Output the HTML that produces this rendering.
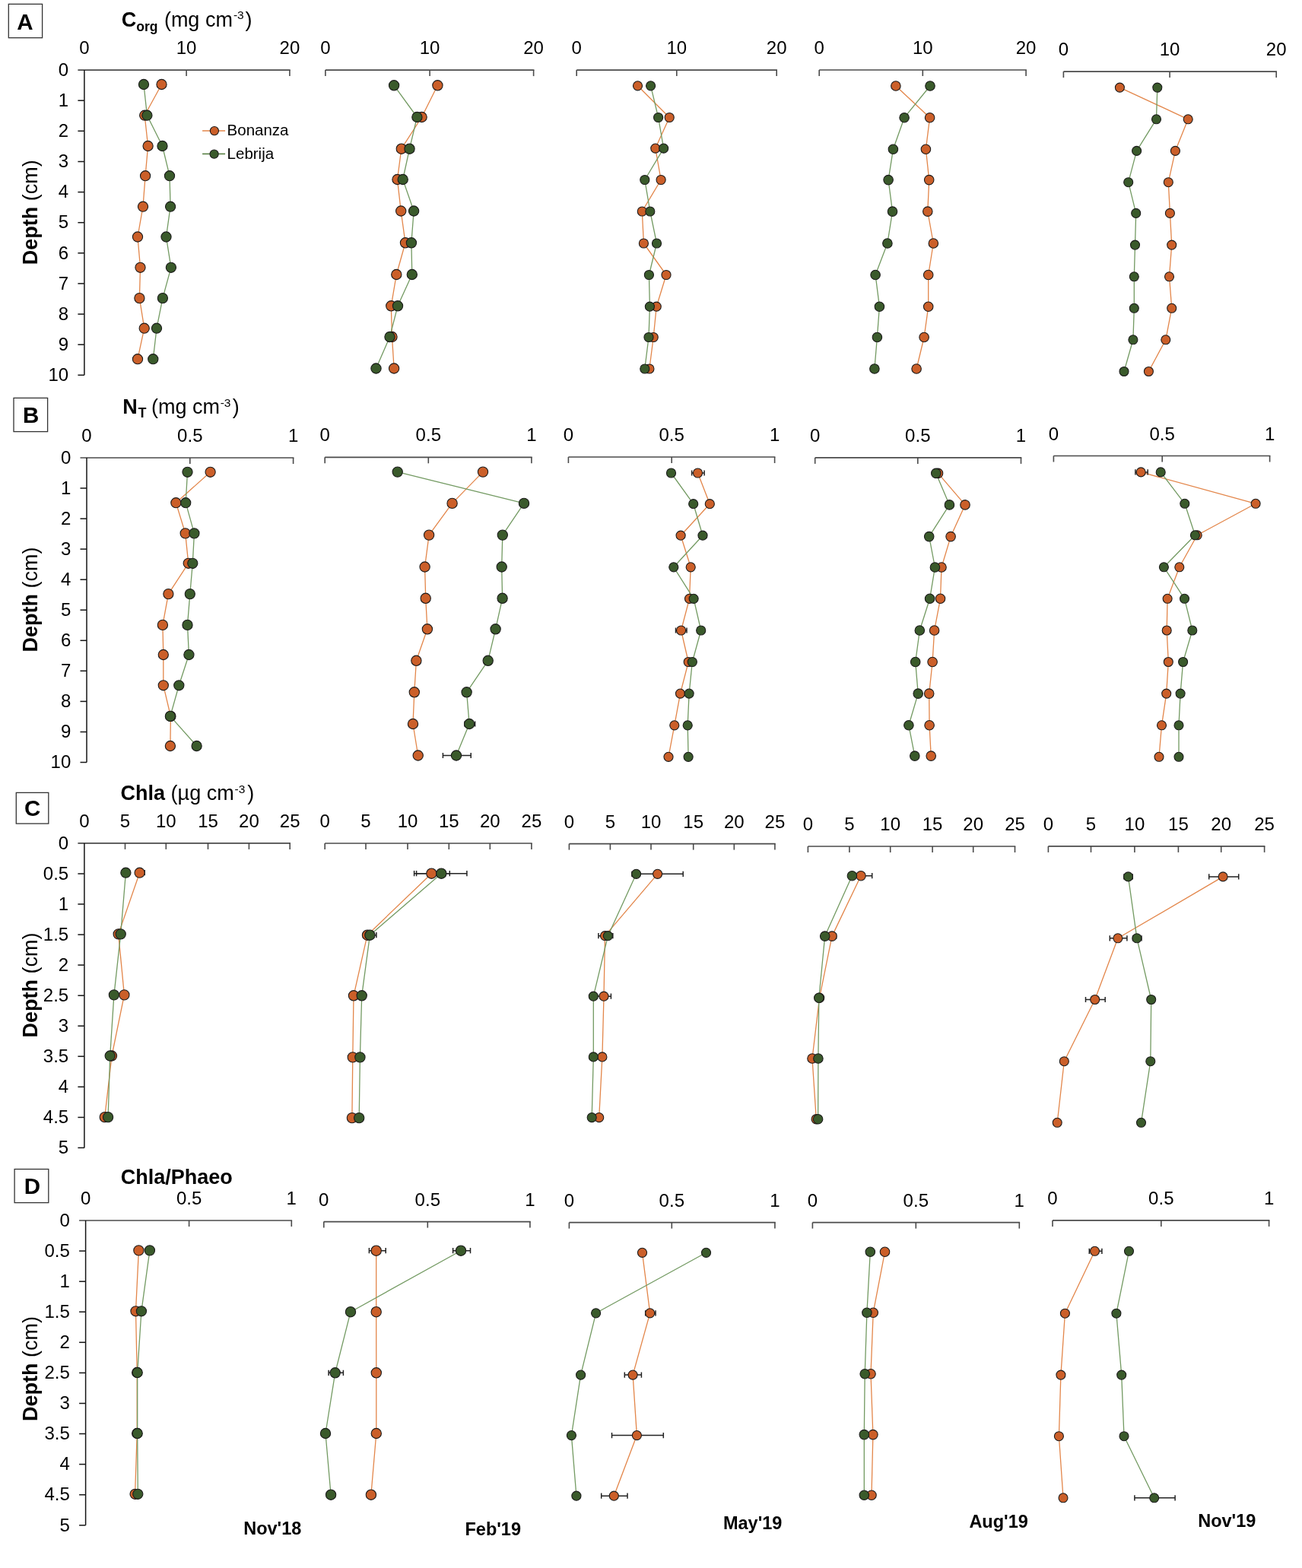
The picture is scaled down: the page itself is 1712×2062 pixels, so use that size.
<!DOCTYPE html>
<html><head><meta charset="utf-8"><title>Depth profiles</title>
<style>html,body{margin:0;padding:0;background:#fff;}svg{display:block;}text{font-family:'Liberation Sans', Arial, sans-serif;fill:#000;}</style></head><body>
<svg width="1712" height="2062" viewBox="0 0 1712 2062">
<rect width="1712" height="2062" fill="#fff"/>
<rect x="11.3" y="5.4" width="44.3" height="44.3" fill="none" stroke="#333" stroke-width="1.3"/>
<text x="32.9" y="39.1" font-size="29.5" font-weight="bold" text-anchor="middle">A</text>
<text x="159.8" y="35.3" font-size="27" font-weight="bold">C</text>
<text x="179.3" y="40.6" font-size="17.5" font-weight="bold">org</text>
<text x="215.9" y="35.3" font-size="27" font-weight="normal">(mg cm</text>
<text x="306.9" y="25" font-size="15.5" font-weight="normal">-3</text>
<text x="322.4" y="35.3" font-size="27" font-weight="normal">)</text>
<path d="M102.4 92.1H381.7" stroke="#4a4a4a" stroke-width="1.7" fill="none"/>
<path d="M245.1 92.1V100.1" stroke="#4a4a4a" stroke-width="1.6" fill="none"/>
<path d="M380.9 92.1V100.1" stroke="#4a4a4a" stroke-width="1.6" fill="none"/>
<text x="110.9" y="71.1" font-size="24" text-anchor="middle">0</text>
<text x="245.1" y="71.1" font-size="24" text-anchor="middle">10</text>
<text x="380.9" y="71.1" font-size="24" text-anchor="middle">20</text>
<path d="M110.9 92.1V493.3" stroke="#141414" stroke-width="1.5" fill="none"/>
<text x="90.2" y="99.8" font-size="24" text-anchor="end">0</text>
<path d="M102.4 132.2H110.9" stroke="#141414" stroke-width="1.5" fill="none"/>
<text x="90.2" y="139.9" font-size="24" text-anchor="end">1</text>
<path d="M102.4 172.3H110.9" stroke="#141414" stroke-width="1.5" fill="none"/>
<text x="90.2" y="180" font-size="24" text-anchor="end">2</text>
<path d="M102.4 212.5H110.9" stroke="#141414" stroke-width="1.5" fill="none"/>
<text x="90.2" y="220.2" font-size="24" text-anchor="end">3</text>
<path d="M102.4 252.6H110.9" stroke="#141414" stroke-width="1.5" fill="none"/>
<text x="90.2" y="260.3" font-size="24" text-anchor="end">4</text>
<path d="M102.4 292.7H110.9" stroke="#141414" stroke-width="1.5" fill="none"/>
<text x="90.2" y="300.4" font-size="24" text-anchor="end">5</text>
<path d="M102.4 332.8H110.9" stroke="#141414" stroke-width="1.5" fill="none"/>
<text x="90.2" y="340.5" font-size="24" text-anchor="end">6</text>
<path d="M102.4 372.9H110.9" stroke="#141414" stroke-width="1.5" fill="none"/>
<text x="90.2" y="380.6" font-size="24" text-anchor="end">7</text>
<path d="M102.4 413.1H110.9" stroke="#141414" stroke-width="1.5" fill="none"/>
<text x="90.2" y="420.8" font-size="24" text-anchor="end">8</text>
<path d="M102.4 453.2H110.9" stroke="#141414" stroke-width="1.5" fill="none"/>
<text x="90.2" y="460.9" font-size="24" text-anchor="end">9</text>
<path d="M102.4 493.3H110.9" stroke="#141414" stroke-width="1.5" fill="none"/>
<text x="90.2" y="501" font-size="24" text-anchor="end">10</text>
<text transform="translate(48.8 279.2) rotate(-90)" font-size="27" text-anchor="middle"><tspan font-weight="bold">Depth</tspan> (cm)</text>
<path d="M212.5 111 L190.2 151.7 L194.6 192 L191.1 231.2 L188 271.7 L181 311.5 L184.5 351.8 L183.4 392.1 L189.7 431.7 L181 472.2" stroke="#e3864a" stroke-width="1.3" fill="none" stroke-linejoin="round"/>
<path d="M189 111 L193.4 151.7 L213.5 192 L223 231.2 L224.1 271.7 L218.5 311.5 L224.9 351.8 L213.9 392.1 L206 431.7 L201.3 472.2" stroke="#739a62" stroke-width="1.3" fill="none" stroke-linejoin="round"/>
<circle cx="212.5" cy="111" r="6.60" fill="#cb5f29" stroke="#1a1a1a" stroke-width="1.1"/>
<circle cx="190.2" cy="151.7" r="6.60" fill="#cb5f29" stroke="#1a1a1a" stroke-width="1.1"/>
<circle cx="194.6" cy="192" r="6.60" fill="#cb5f29" stroke="#1a1a1a" stroke-width="1.1"/>
<circle cx="191.1" cy="231.2" r="6.60" fill="#cb5f29" stroke="#1a1a1a" stroke-width="1.1"/>
<circle cx="188" cy="271.7" r="6.60" fill="#cb5f29" stroke="#1a1a1a" stroke-width="1.1"/>
<circle cx="181" cy="311.5" r="6.60" fill="#cb5f29" stroke="#1a1a1a" stroke-width="1.1"/>
<circle cx="184.5" cy="351.8" r="6.60" fill="#cb5f29" stroke="#1a1a1a" stroke-width="1.1"/>
<circle cx="183.4" cy="392.1" r="6.60" fill="#cb5f29" stroke="#1a1a1a" stroke-width="1.1"/>
<circle cx="189.7" cy="431.7" r="6.60" fill="#cb5f29" stroke="#1a1a1a" stroke-width="1.1"/>
<circle cx="181" cy="472.2" r="6.60" fill="#cb5f29" stroke="#1a1a1a" stroke-width="1.1"/>
<circle cx="189" cy="111" r="6.60" fill="#3a5a2b" stroke="#1a1a1a" stroke-width="1.1"/>
<circle cx="193.4" cy="151.7" r="6.60" fill="#3a5a2b" stroke="#1a1a1a" stroke-width="1.1"/>
<circle cx="213.5" cy="192" r="6.60" fill="#3a5a2b" stroke="#1a1a1a" stroke-width="1.1"/>
<circle cx="223" cy="231.2" r="6.60" fill="#3a5a2b" stroke="#1a1a1a" stroke-width="1.1"/>
<circle cx="224.1" cy="271.7" r="6.60" fill="#3a5a2b" stroke="#1a1a1a" stroke-width="1.1"/>
<circle cx="218.5" cy="311.5" r="6.60" fill="#3a5a2b" stroke="#1a1a1a" stroke-width="1.1"/>
<circle cx="224.9" cy="351.8" r="6.60" fill="#3a5a2b" stroke="#1a1a1a" stroke-width="1.1"/>
<circle cx="213.9" cy="392.1" r="6.60" fill="#3a5a2b" stroke="#1a1a1a" stroke-width="1.1"/>
<circle cx="206" cy="431.7" r="6.60" fill="#3a5a2b" stroke="#1a1a1a" stroke-width="1.1"/>
<circle cx="201.3" cy="472.2" r="6.60" fill="#3a5a2b" stroke="#1a1a1a" stroke-width="1.1"/>
<path d="M427.9 92.1H702.4" stroke="#4a4a4a" stroke-width="1.7" fill="none"/>
<path d="M427.9 92.1V100.1" stroke="#4a4a4a" stroke-width="1.6" fill="none"/>
<path d="M565.1 92.1V100.1" stroke="#4a4a4a" stroke-width="1.6" fill="none"/>
<path d="M701.6 92.1V100.1" stroke="#4a4a4a" stroke-width="1.6" fill="none"/>
<text x="427.9" y="71.1" font-size="24" text-anchor="middle">0</text>
<text x="565.1" y="71.1" font-size="24" text-anchor="middle">10</text>
<text x="701.6" y="71.1" font-size="24" text-anchor="middle">20</text>
<path d="M575.4 112.3 L554.6 154 L527.8 195.7 L522.5 236 L527.2 277.5 L533 319.3 L521.3 361 L514.3 402.3 L515.5 443 L518.1 484.5" stroke="#e3864a" stroke-width="1.3" fill="none" stroke-linejoin="round"/>
<path d="M518.1 112.3 L548.4 154 L538.5 195.7 L529.7 236 L544.1 277.5 L540.9 319.3 L541.8 361 L523 402.3 L512.5 443 L494.5 484.5" stroke="#739a62" stroke-width="1.3" fill="none" stroke-linejoin="round"/>
<circle cx="575.4" cy="112.3" r="6.65" fill="#cb5f29" stroke="#1a1a1a" stroke-width="1.1"/>
<circle cx="554.6" cy="154" r="6.65" fill="#cb5f29" stroke="#1a1a1a" stroke-width="1.1"/>
<circle cx="527.8" cy="195.7" r="6.65" fill="#cb5f29" stroke="#1a1a1a" stroke-width="1.1"/>
<circle cx="522.5" cy="236" r="6.65" fill="#cb5f29" stroke="#1a1a1a" stroke-width="1.1"/>
<circle cx="527.2" cy="277.5" r="6.65" fill="#cb5f29" stroke="#1a1a1a" stroke-width="1.1"/>
<circle cx="533" cy="319.3" r="6.65" fill="#cb5f29" stroke="#1a1a1a" stroke-width="1.1"/>
<circle cx="521.3" cy="361" r="6.65" fill="#cb5f29" stroke="#1a1a1a" stroke-width="1.1"/>
<circle cx="514.3" cy="402.3" r="6.65" fill="#cb5f29" stroke="#1a1a1a" stroke-width="1.1"/>
<circle cx="515.5" cy="443" r="6.65" fill="#cb5f29" stroke="#1a1a1a" stroke-width="1.1"/>
<circle cx="518.1" cy="484.5" r="6.65" fill="#cb5f29" stroke="#1a1a1a" stroke-width="1.1"/>
<circle cx="518.1" cy="112.3" r="6.65" fill="#3a5a2b" stroke="#1a1a1a" stroke-width="1.1"/>
<circle cx="548.4" cy="154" r="6.65" fill="#3a5a2b" stroke="#1a1a1a" stroke-width="1.1"/>
<circle cx="538.5" cy="195.7" r="6.65" fill="#3a5a2b" stroke="#1a1a1a" stroke-width="1.1"/>
<circle cx="529.7" cy="236" r="6.65" fill="#3a5a2b" stroke="#1a1a1a" stroke-width="1.1"/>
<circle cx="544.1" cy="277.5" r="6.65" fill="#3a5a2b" stroke="#1a1a1a" stroke-width="1.1"/>
<circle cx="540.9" cy="319.3" r="6.65" fill="#3a5a2b" stroke="#1a1a1a" stroke-width="1.1"/>
<circle cx="541.8" cy="361" r="6.65" fill="#3a5a2b" stroke="#1a1a1a" stroke-width="1.1"/>
<circle cx="523" cy="402.3" r="6.65" fill="#3a5a2b" stroke="#1a1a1a" stroke-width="1.1"/>
<circle cx="512.5" cy="443" r="6.65" fill="#3a5a2b" stroke="#1a1a1a" stroke-width="1.1"/>
<circle cx="494.5" cy="484.5" r="6.65" fill="#3a5a2b" stroke="#1a1a1a" stroke-width="1.1"/>
<path d="M758.2 92.1H1022" stroke="#4a4a4a" stroke-width="1.7" fill="none"/>
<path d="M758.2 92.1V100.1" stroke="#4a4a4a" stroke-width="1.6" fill="none"/>
<path d="M889.8 92.1V100.1" stroke="#4a4a4a" stroke-width="1.6" fill="none"/>
<path d="M1021.2 92.1V100.1" stroke="#4a4a4a" stroke-width="1.6" fill="none"/>
<text x="758.2" y="71.1" font-size="24" text-anchor="middle">0</text>
<text x="889.8" y="71.1" font-size="24" text-anchor="middle">10</text>
<text x="1021.2" y="71.1" font-size="24" text-anchor="middle">20</text>
<path d="M838.5 112.8 L880.2 154.5 L861.8 195.1 L869.1 236.5 L844.3 278 L846.4 320 L876 361.5 L863.2 403.2 L859.2 443.5 L853.9 485" stroke="#e3864a" stroke-width="1.3" fill="none" stroke-linejoin="round"/>
<path d="M855.6 112.8 L865.6 154.5 L872.6 195.1 L847.8 236.5 L854.8 278 L863.5 320 L853.4 361.5 L854.4 403.2 L853 443.5 L847.8 485" stroke="#739a62" stroke-width="1.3" fill="none" stroke-linejoin="round"/>
<circle cx="838.5" cy="112.8" r="6.05" fill="#cb5f29" stroke="#1a1a1a" stroke-width="1.1"/>
<circle cx="880.2" cy="154.5" r="6.05" fill="#cb5f29" stroke="#1a1a1a" stroke-width="1.1"/>
<circle cx="861.8" cy="195.1" r="6.05" fill="#cb5f29" stroke="#1a1a1a" stroke-width="1.1"/>
<circle cx="869.1" cy="236.5" r="6.05" fill="#cb5f29" stroke="#1a1a1a" stroke-width="1.1"/>
<circle cx="844.3" cy="278" r="6.05" fill="#cb5f29" stroke="#1a1a1a" stroke-width="1.1"/>
<circle cx="846.4" cy="320" r="6.05" fill="#cb5f29" stroke="#1a1a1a" stroke-width="1.1"/>
<circle cx="876" cy="361.5" r="6.05" fill="#cb5f29" stroke="#1a1a1a" stroke-width="1.1"/>
<circle cx="863.2" cy="403.2" r="6.05" fill="#cb5f29" stroke="#1a1a1a" stroke-width="1.1"/>
<circle cx="859.2" cy="443.5" r="6.05" fill="#cb5f29" stroke="#1a1a1a" stroke-width="1.1"/>
<circle cx="853.9" cy="485" r="6.05" fill="#cb5f29" stroke="#1a1a1a" stroke-width="1.1"/>
<circle cx="855.6" cy="112.8" r="6.05" fill="#3a5a2b" stroke="#1a1a1a" stroke-width="1.1"/>
<circle cx="865.6" cy="154.5" r="6.05" fill="#3a5a2b" stroke="#1a1a1a" stroke-width="1.1"/>
<circle cx="872.6" cy="195.1" r="6.05" fill="#3a5a2b" stroke="#1a1a1a" stroke-width="1.1"/>
<circle cx="847.8" cy="236.5" r="6.05" fill="#3a5a2b" stroke="#1a1a1a" stroke-width="1.1"/>
<circle cx="854.8" cy="278" r="6.05" fill="#3a5a2b" stroke="#1a1a1a" stroke-width="1.1"/>
<circle cx="863.5" cy="320" r="6.05" fill="#3a5a2b" stroke="#1a1a1a" stroke-width="1.1"/>
<circle cx="853.4" cy="361.5" r="6.05" fill="#3a5a2b" stroke="#1a1a1a" stroke-width="1.1"/>
<circle cx="854.4" cy="403.2" r="6.05" fill="#3a5a2b" stroke="#1a1a1a" stroke-width="1.1"/>
<circle cx="853" cy="443.5" r="6.05" fill="#3a5a2b" stroke="#1a1a1a" stroke-width="1.1"/>
<circle cx="847.8" cy="485" r="6.05" fill="#3a5a2b" stroke="#1a1a1a" stroke-width="1.1"/>
<path d="M1077.2 92H1349.9" stroke="#4a4a4a" stroke-width="1.7" fill="none"/>
<path d="M1077.2 92V100" stroke="#4a4a4a" stroke-width="1.6" fill="none"/>
<path d="M1213.3 92V100" stroke="#4a4a4a" stroke-width="1.6" fill="none"/>
<path d="M1349.1 92V100" stroke="#4a4a4a" stroke-width="1.6" fill="none"/>
<text x="1077.2" y="71" font-size="24" text-anchor="middle">0</text>
<text x="1213.3" y="71" font-size="24" text-anchor="middle">10</text>
<text x="1349.1" y="71" font-size="24" text-anchor="middle">20</text>
<path d="M1177.9 113 L1222.6 154.7 L1217.4 196.3 L1221.7 236.6 L1219.8 278.1 L1227.3 320 L1220.7 361.5 L1220.7 403.2 L1215.1 443.5 L1205.1 485" stroke="#e3864a" stroke-width="1.3" fill="none" stroke-linejoin="round"/>
<path d="M1223 113 L1189.1 154.7 L1174.4 196.3 L1168.1 236.6 L1173.5 278.1 L1166.9 320 L1151.1 361.5 L1156.4 403.2 L1153.4 443.5 L1149.9 485" stroke="#739a62" stroke-width="1.3" fill="none" stroke-linejoin="round"/>
<circle cx="1177.9" cy="113" r="6.25" fill="#cb5f29" stroke="#1a1a1a" stroke-width="1.1"/>
<circle cx="1222.6" cy="154.7" r="6.25" fill="#cb5f29" stroke="#1a1a1a" stroke-width="1.1"/>
<circle cx="1217.4" cy="196.3" r="6.25" fill="#cb5f29" stroke="#1a1a1a" stroke-width="1.1"/>
<circle cx="1221.7" cy="236.6" r="6.25" fill="#cb5f29" stroke="#1a1a1a" stroke-width="1.1"/>
<circle cx="1219.8" cy="278.1" r="6.25" fill="#cb5f29" stroke="#1a1a1a" stroke-width="1.1"/>
<circle cx="1227.3" cy="320" r="6.25" fill="#cb5f29" stroke="#1a1a1a" stroke-width="1.1"/>
<circle cx="1220.7" cy="361.5" r="6.25" fill="#cb5f29" stroke="#1a1a1a" stroke-width="1.1"/>
<circle cx="1220.7" cy="403.2" r="6.25" fill="#cb5f29" stroke="#1a1a1a" stroke-width="1.1"/>
<circle cx="1215.1" cy="443.5" r="6.25" fill="#cb5f29" stroke="#1a1a1a" stroke-width="1.1"/>
<circle cx="1205.1" cy="485" r="6.25" fill="#cb5f29" stroke="#1a1a1a" stroke-width="1.1"/>
<circle cx="1223" cy="113" r="6.25" fill="#3a5a2b" stroke="#1a1a1a" stroke-width="1.1"/>
<circle cx="1189.1" cy="154.7" r="6.25" fill="#3a5a2b" stroke="#1a1a1a" stroke-width="1.1"/>
<circle cx="1174.4" cy="196.3" r="6.25" fill="#3a5a2b" stroke="#1a1a1a" stroke-width="1.1"/>
<circle cx="1168.1" cy="236.6" r="6.25" fill="#3a5a2b" stroke="#1a1a1a" stroke-width="1.1"/>
<circle cx="1173.5" cy="278.1" r="6.25" fill="#3a5a2b" stroke="#1a1a1a" stroke-width="1.1"/>
<circle cx="1166.9" cy="320" r="6.25" fill="#3a5a2b" stroke="#1a1a1a" stroke-width="1.1"/>
<circle cx="1151.1" cy="361.5" r="6.25" fill="#3a5a2b" stroke="#1a1a1a" stroke-width="1.1"/>
<circle cx="1156.4" cy="403.2" r="6.25" fill="#3a5a2b" stroke="#1a1a1a" stroke-width="1.1"/>
<circle cx="1153.4" cy="443.5" r="6.25" fill="#3a5a2b" stroke="#1a1a1a" stroke-width="1.1"/>
<circle cx="1149.9" cy="485" r="6.25" fill="#3a5a2b" stroke="#1a1a1a" stroke-width="1.1"/>
<path d="M1398.4 94.1H1679" stroke="#4a4a4a" stroke-width="1.7" fill="none"/>
<path d="M1398.4 94.1V102.1" stroke="#4a4a4a" stroke-width="1.6" fill="none"/>
<path d="M1538.1 94.1V102.1" stroke="#4a4a4a" stroke-width="1.6" fill="none"/>
<path d="M1678.2 94.1V102.1" stroke="#4a4a4a" stroke-width="1.6" fill="none"/>
<text x="1398.4" y="73.1" font-size="24" text-anchor="middle">0</text>
<text x="1538.1" y="73.1" font-size="24" text-anchor="middle">10</text>
<text x="1678.2" y="73.1" font-size="24" text-anchor="middle">20</text>
<path d="M1472.4 115.1 L1562.2 156.8 L1545.4 198.4 L1536.3 239.7 L1538.4 280.4 L1540.7 322.1 L1537.5 363.8 L1540.7 405.3 L1532.8 446.8 L1510.4 488.5" stroke="#e3864a" stroke-width="1.3" fill="none" stroke-linejoin="round"/>
<path d="M1521.8 115.1 L1520.5 156.8 L1494.6 198.4 L1483.7 239.7 L1493.7 280.4 L1492.5 322.1 L1491.3 363.8 L1491.3 405.3 L1489.9 446.8 L1478 488.5" stroke="#739a62" stroke-width="1.3" fill="none" stroke-linejoin="round"/>
<circle cx="1472.4" cy="115.1" r="6.00" fill="#cb5f29" stroke="#1a1a1a" stroke-width="1.1"/>
<circle cx="1562.2" cy="156.8" r="6.00" fill="#cb5f29" stroke="#1a1a1a" stroke-width="1.1"/>
<circle cx="1545.4" cy="198.4" r="6.00" fill="#cb5f29" stroke="#1a1a1a" stroke-width="1.1"/>
<circle cx="1536.3" cy="239.7" r="6.00" fill="#cb5f29" stroke="#1a1a1a" stroke-width="1.1"/>
<circle cx="1538.4" cy="280.4" r="6.00" fill="#cb5f29" stroke="#1a1a1a" stroke-width="1.1"/>
<circle cx="1540.7" cy="322.1" r="6.00" fill="#cb5f29" stroke="#1a1a1a" stroke-width="1.1"/>
<circle cx="1537.5" cy="363.8" r="6.00" fill="#cb5f29" stroke="#1a1a1a" stroke-width="1.1"/>
<circle cx="1540.7" cy="405.3" r="6.00" fill="#cb5f29" stroke="#1a1a1a" stroke-width="1.1"/>
<circle cx="1532.8" cy="446.8" r="6.00" fill="#cb5f29" stroke="#1a1a1a" stroke-width="1.1"/>
<circle cx="1510.4" cy="488.5" r="6.00" fill="#cb5f29" stroke="#1a1a1a" stroke-width="1.1"/>
<circle cx="1521.8" cy="115.1" r="6.00" fill="#3a5a2b" stroke="#1a1a1a" stroke-width="1.1"/>
<circle cx="1520.5" cy="156.8" r="6.00" fill="#3a5a2b" stroke="#1a1a1a" stroke-width="1.1"/>
<circle cx="1494.6" cy="198.4" r="6.00" fill="#3a5a2b" stroke="#1a1a1a" stroke-width="1.1"/>
<circle cx="1483.7" cy="239.7" r="6.00" fill="#3a5a2b" stroke="#1a1a1a" stroke-width="1.1"/>
<circle cx="1493.7" cy="280.4" r="6.00" fill="#3a5a2b" stroke="#1a1a1a" stroke-width="1.1"/>
<circle cx="1492.5" cy="322.1" r="6.00" fill="#3a5a2b" stroke="#1a1a1a" stroke-width="1.1"/>
<circle cx="1491.3" cy="363.8" r="6.00" fill="#3a5a2b" stroke="#1a1a1a" stroke-width="1.1"/>
<circle cx="1491.3" cy="405.3" r="6.00" fill="#3a5a2b" stroke="#1a1a1a" stroke-width="1.1"/>
<circle cx="1489.9" cy="446.8" r="6.00" fill="#3a5a2b" stroke="#1a1a1a" stroke-width="1.1"/>
<circle cx="1478" cy="488.5" r="6.00" fill="#3a5a2b" stroke="#1a1a1a" stroke-width="1.1"/>
<rect x="18" y="523.4" width="44.6" height="44.2" fill="none" stroke="#333" stroke-width="1.3"/>
<text x="40.6" y="555.9" font-size="29.5" font-weight="bold" text-anchor="middle">B</text>
<text x="161.3" y="544.4" font-size="27" font-weight="bold">N</text>
<text x="181.8" y="549.2" font-size="17.5" font-weight="bold">T</text>
<text x="199.1" y="544.3" font-size="27" font-weight="normal">(mg cm</text>
<text x="289.7" y="535" font-size="15.5" font-weight="normal">-3</text>
<text x="305.8" y="544.3" font-size="27" font-weight="normal">)</text>
<path d="M105.5 602H386.4" stroke="#4a4a4a" stroke-width="1.7" fill="none"/>
<path d="M249.8 602V610" stroke="#4a4a4a" stroke-width="1.6" fill="none"/>
<path d="M385.6 602V610" stroke="#4a4a4a" stroke-width="1.6" fill="none"/>
<text x="114" y="581" font-size="24" text-anchor="middle">0</text>
<text x="249.8" y="581" font-size="24" text-anchor="middle">0.5</text>
<text x="385.6" y="581" font-size="24" text-anchor="middle">1</text>
<path d="M114 602V1002.5" stroke="#141414" stroke-width="1.5" fill="none"/>
<text x="93.3" y="609.7" font-size="24" text-anchor="end">0</text>
<path d="M105.5 642H114" stroke="#141414" stroke-width="1.5" fill="none"/>
<text x="93.3" y="649.8" font-size="24" text-anchor="end">1</text>
<path d="M105.5 682.1H114" stroke="#141414" stroke-width="1.5" fill="none"/>
<text x="93.3" y="689.8" font-size="24" text-anchor="end">2</text>
<path d="M105.5 722.1H114" stroke="#141414" stroke-width="1.5" fill="none"/>
<text x="93.3" y="729.9" font-size="24" text-anchor="end">3</text>
<path d="M105.5 762.2H114" stroke="#141414" stroke-width="1.5" fill="none"/>
<text x="93.3" y="769.9" font-size="24" text-anchor="end">4</text>
<path d="M105.5 802.2H114" stroke="#141414" stroke-width="1.5" fill="none"/>
<text x="93.3" y="810" font-size="24" text-anchor="end">5</text>
<path d="M105.5 842.3H114" stroke="#141414" stroke-width="1.5" fill="none"/>
<text x="93.3" y="850" font-size="24" text-anchor="end">6</text>
<path d="M105.5 882.3H114" stroke="#141414" stroke-width="1.5" fill="none"/>
<text x="93.3" y="890" font-size="24" text-anchor="end">7</text>
<path d="M105.5 922.4H114" stroke="#141414" stroke-width="1.5" fill="none"/>
<text x="93.3" y="930.1" font-size="24" text-anchor="end">8</text>
<path d="M105.5 962.5H114" stroke="#141414" stroke-width="1.5" fill="none"/>
<text x="93.3" y="970.2" font-size="24" text-anchor="end">9</text>
<path d="M105.5 1002.5H114" stroke="#141414" stroke-width="1.5" fill="none"/>
<text x="93.3" y="1010.2" font-size="24" text-anchor="end">10</text>
<text transform="translate(48.8 788.6) rotate(-90)" font-size="27" text-anchor="middle"><tspan font-weight="bold">Depth</tspan> (cm)</text>
<path d="M276.6 620.8 L231.4 661.2 L243.7 701.4 L247.7 740.8 L221.4 781.1 L213.9 821.9 L214.8 861 L214.8 901.3 L224.4 941.9 L223.9 981" stroke="#e3864a" stroke-width="1.3" fill="none" stroke-linejoin="round"/>
<path d="M246.5 620.8 L244.2 661.2 L255.4 701.4 L253.3 740.8 L249.8 781.1 L246.5 821.9 L248.4 861 L235.3 901.3 L223.9 941.9 L258.6 981" stroke="#739a62" stroke-width="1.3" fill="none" stroke-linejoin="round"/>
<circle cx="276.6" cy="620.8" r="6.60" fill="#cb5f29" stroke="#1a1a1a" stroke-width="1.1"/>
<circle cx="231.4" cy="661.2" r="6.60" fill="#cb5f29" stroke="#1a1a1a" stroke-width="1.1"/>
<circle cx="243.7" cy="701.4" r="6.60" fill="#cb5f29" stroke="#1a1a1a" stroke-width="1.1"/>
<circle cx="247.7" cy="740.8" r="6.60" fill="#cb5f29" stroke="#1a1a1a" stroke-width="1.1"/>
<circle cx="221.4" cy="781.1" r="6.60" fill="#cb5f29" stroke="#1a1a1a" stroke-width="1.1"/>
<circle cx="213.9" cy="821.9" r="6.60" fill="#cb5f29" stroke="#1a1a1a" stroke-width="1.1"/>
<circle cx="214.8" cy="861" r="6.60" fill="#cb5f29" stroke="#1a1a1a" stroke-width="1.1"/>
<circle cx="214.8" cy="901.3" r="6.60" fill="#cb5f29" stroke="#1a1a1a" stroke-width="1.1"/>
<circle cx="224.4" cy="941.9" r="6.60" fill="#cb5f29" stroke="#1a1a1a" stroke-width="1.1"/>
<circle cx="223.9" cy="981" r="6.60" fill="#cb5f29" stroke="#1a1a1a" stroke-width="1.1"/>
<circle cx="246.5" cy="620.8" r="6.60" fill="#3a5a2b" stroke="#1a1a1a" stroke-width="1.1"/>
<circle cx="244.2" cy="661.2" r="6.60" fill="#3a5a2b" stroke="#1a1a1a" stroke-width="1.1"/>
<circle cx="255.4" cy="701.4" r="6.60" fill="#3a5a2b" stroke="#1a1a1a" stroke-width="1.1"/>
<circle cx="253.3" cy="740.8" r="6.60" fill="#3a5a2b" stroke="#1a1a1a" stroke-width="1.1"/>
<circle cx="249.8" cy="781.1" r="6.60" fill="#3a5a2b" stroke="#1a1a1a" stroke-width="1.1"/>
<circle cx="246.5" cy="821.9" r="6.60" fill="#3a5a2b" stroke="#1a1a1a" stroke-width="1.1"/>
<circle cx="248.4" cy="861" r="6.60" fill="#3a5a2b" stroke="#1a1a1a" stroke-width="1.1"/>
<circle cx="235.3" cy="901.3" r="6.60" fill="#3a5a2b" stroke="#1a1a1a" stroke-width="1.1"/>
<circle cx="223.9" cy="941.9" r="6.60" fill="#3a5a2b" stroke="#1a1a1a" stroke-width="1.1"/>
<circle cx="258.6" cy="981" r="6.60" fill="#3a5a2b" stroke="#1a1a1a" stroke-width="1.1"/>
<path d="M427.2 601.3H699.7" stroke="#4a4a4a" stroke-width="1.7" fill="none"/>
<path d="M427.2 601.3V609.3" stroke="#4a4a4a" stroke-width="1.6" fill="none"/>
<path d="M563.3 601.3V609.3" stroke="#4a4a4a" stroke-width="1.6" fill="none"/>
<path d="M698.9 601.3V609.3" stroke="#4a4a4a" stroke-width="1.6" fill="none"/>
<text x="427.2" y="580.3" font-size="24" text-anchor="middle">0</text>
<text x="563.3" y="580.3" font-size="24" text-anchor="middle">0.5</text>
<text x="698.9" y="580.3" font-size="24" text-anchor="middle">1</text>
<path d="M635 620.6 L594.6 661.9 L564.1 703.6 L558.6 745.5 L559.7 786.8 L561.9 827.3 L547.4 868.8 L544.8 910.3 L543 952 L549.7 993.5" stroke="#e3864a" stroke-width="1.3" fill="none" stroke-linejoin="round"/>
<path d="M522.7 620.6 L689 661.9 L660.8 703.6 L659.7 745.5 L660.6 786.8 L651.6 827.3 L641.7 868.8 L613.6 910.3 L617.1 952 L600 993.5" stroke="#739a62" stroke-width="1.3" fill="none" stroke-linejoin="round"/>
<path d="M611 952H624.6 M611 948.4V955.6 M624.6 948.4V955.6" stroke="#222" stroke-width="1.5" fill="none"/>
<path d="M582.4 993.5H619.2 M582.4 989.9V997.1 M619.2 989.9V997.1" stroke="#222" stroke-width="1.5" fill="none"/>
<circle cx="635" cy="620.6" r="6.65" fill="#cb5f29" stroke="#1a1a1a" stroke-width="1.1"/>
<circle cx="594.6" cy="661.9" r="6.65" fill="#cb5f29" stroke="#1a1a1a" stroke-width="1.1"/>
<circle cx="564.1" cy="703.6" r="6.65" fill="#cb5f29" stroke="#1a1a1a" stroke-width="1.1"/>
<circle cx="558.6" cy="745.5" r="6.65" fill="#cb5f29" stroke="#1a1a1a" stroke-width="1.1"/>
<circle cx="559.7" cy="786.8" r="6.65" fill="#cb5f29" stroke="#1a1a1a" stroke-width="1.1"/>
<circle cx="561.9" cy="827.3" r="6.65" fill="#cb5f29" stroke="#1a1a1a" stroke-width="1.1"/>
<circle cx="547.4" cy="868.8" r="6.65" fill="#cb5f29" stroke="#1a1a1a" stroke-width="1.1"/>
<circle cx="544.8" cy="910.3" r="6.65" fill="#cb5f29" stroke="#1a1a1a" stroke-width="1.1"/>
<circle cx="543" cy="952" r="6.65" fill="#cb5f29" stroke="#1a1a1a" stroke-width="1.1"/>
<circle cx="549.7" cy="993.5" r="6.65" fill="#cb5f29" stroke="#1a1a1a" stroke-width="1.1"/>
<circle cx="522.7" cy="620.6" r="6.65" fill="#3a5a2b" stroke="#1a1a1a" stroke-width="1.1"/>
<circle cx="689" cy="661.9" r="6.65" fill="#3a5a2b" stroke="#1a1a1a" stroke-width="1.1"/>
<circle cx="660.8" cy="703.6" r="6.65" fill="#3a5a2b" stroke="#1a1a1a" stroke-width="1.1"/>
<circle cx="659.7" cy="745.5" r="6.65" fill="#3a5a2b" stroke="#1a1a1a" stroke-width="1.1"/>
<circle cx="660.6" cy="786.8" r="6.65" fill="#3a5a2b" stroke="#1a1a1a" stroke-width="1.1"/>
<circle cx="651.6" cy="827.3" r="6.65" fill="#3a5a2b" stroke="#1a1a1a" stroke-width="1.1"/>
<circle cx="641.7" cy="868.8" r="6.65" fill="#3a5a2b" stroke="#1a1a1a" stroke-width="1.1"/>
<circle cx="613.6" cy="910.3" r="6.65" fill="#3a5a2b" stroke="#1a1a1a" stroke-width="1.1"/>
<circle cx="617.1" cy="952" r="6.65" fill="#3a5a2b" stroke="#1a1a1a" stroke-width="1.1"/>
<circle cx="600" cy="993.5" r="6.65" fill="#3a5a2b" stroke="#1a1a1a" stroke-width="1.1"/>
<path d="M747.4 601H1019.4" stroke="#4a4a4a" stroke-width="1.7" fill="none"/>
<path d="M747.4 601V609" stroke="#4a4a4a" stroke-width="1.6" fill="none"/>
<path d="M883.2 601V609" stroke="#4a4a4a" stroke-width="1.6" fill="none"/>
<path d="M1018.6 601V609" stroke="#4a4a4a" stroke-width="1.6" fill="none"/>
<text x="747.4" y="580" font-size="24" text-anchor="middle">0</text>
<text x="883.2" y="580" font-size="24" text-anchor="middle">0.5</text>
<text x="1018.6" y="580" font-size="24" text-anchor="middle">1</text>
<path d="M917.5 622 L933.3 662.7 L895.1 704.2 L908.2 745.8 L906.5 787.3 L895.6 829 L905.2 870.5 L894.5 912.1 L886.8 953.8 L879 995.3" stroke="#e3864a" stroke-width="1.3" fill="none" stroke-linejoin="round"/>
<path d="M882.5 622 L911.7 662.7 L924 704.2 L885.8 745.8 L912.1 787.3 L921.7 829 L910.3 870.5 L906.1 912.1 L904.2 953.8 L905.1 995.3" stroke="#739a62" stroke-width="1.3" fill="none" stroke-linejoin="round"/>
<path d="M909.6 622H926.1 M909.6 618.4V625.6 M926.1 618.4V625.6" stroke="#222" stroke-width="1.5" fill="none"/>
<path d="M888.5 829H903 M888.5 825.4V832.6 M903 825.4V832.6" stroke="#222" stroke-width="1.5" fill="none"/>
<circle cx="917.5" cy="622" r="6.05" fill="#cb5f29" stroke="#1a1a1a" stroke-width="1.1"/>
<circle cx="933.3" cy="662.7" r="6.05" fill="#cb5f29" stroke="#1a1a1a" stroke-width="1.1"/>
<circle cx="895.1" cy="704.2" r="6.05" fill="#cb5f29" stroke="#1a1a1a" stroke-width="1.1"/>
<circle cx="908.2" cy="745.8" r="6.05" fill="#cb5f29" stroke="#1a1a1a" stroke-width="1.1"/>
<circle cx="906.5" cy="787.3" r="6.05" fill="#cb5f29" stroke="#1a1a1a" stroke-width="1.1"/>
<circle cx="895.6" cy="829" r="6.05" fill="#cb5f29" stroke="#1a1a1a" stroke-width="1.1"/>
<circle cx="905.2" cy="870.5" r="6.05" fill="#cb5f29" stroke="#1a1a1a" stroke-width="1.1"/>
<circle cx="894.5" cy="912.1" r="6.05" fill="#cb5f29" stroke="#1a1a1a" stroke-width="1.1"/>
<circle cx="886.8" cy="953.8" r="6.05" fill="#cb5f29" stroke="#1a1a1a" stroke-width="1.1"/>
<circle cx="879" cy="995.3" r="6.05" fill="#cb5f29" stroke="#1a1a1a" stroke-width="1.1"/>
<circle cx="882.5" cy="622" r="6.05" fill="#3a5a2b" stroke="#1a1a1a" stroke-width="1.1"/>
<circle cx="911.7" cy="662.7" r="6.05" fill="#3a5a2b" stroke="#1a1a1a" stroke-width="1.1"/>
<circle cx="924" cy="704.2" r="6.05" fill="#3a5a2b" stroke="#1a1a1a" stroke-width="1.1"/>
<circle cx="885.8" cy="745.8" r="6.05" fill="#3a5a2b" stroke="#1a1a1a" stroke-width="1.1"/>
<circle cx="912.1" cy="787.3" r="6.05" fill="#3a5a2b" stroke="#1a1a1a" stroke-width="1.1"/>
<circle cx="921.7" cy="829" r="6.05" fill="#3a5a2b" stroke="#1a1a1a" stroke-width="1.1"/>
<circle cx="910.3" cy="870.5" r="6.05" fill="#3a5a2b" stroke="#1a1a1a" stroke-width="1.1"/>
<circle cx="906.1" cy="912.1" r="6.05" fill="#3a5a2b" stroke="#1a1a1a" stroke-width="1.1"/>
<circle cx="904.2" cy="953.8" r="6.05" fill="#3a5a2b" stroke="#1a1a1a" stroke-width="1.1"/>
<circle cx="905.1" cy="995.3" r="6.05" fill="#3a5a2b" stroke="#1a1a1a" stroke-width="1.1"/>
<path d="M1071.7 601.9H1343.3" stroke="#4a4a4a" stroke-width="1.7" fill="none"/>
<path d="M1071.7 601.9V609.9" stroke="#4a4a4a" stroke-width="1.6" fill="none"/>
<path d="M1206.8 601.9V609.9" stroke="#4a4a4a" stroke-width="1.6" fill="none"/>
<path d="M1342.5 601.9V609.9" stroke="#4a4a4a" stroke-width="1.6" fill="none"/>
<text x="1071.7" y="580.9" font-size="24" text-anchor="middle">0</text>
<text x="1206.8" y="580.9" font-size="24" text-anchor="middle">0.5</text>
<text x="1342.5" y="580.9" font-size="24" text-anchor="middle">1</text>
<path d="M1233.5 622.4 L1269 663.9 L1250.1 705.6 L1238 746 L1236.5 787.3 L1228.6 829 L1226.1 870.5 L1221.7 912.1 L1222.1 953.8 L1224.2 994.1" stroke="#e3864a" stroke-width="1.3" fill="none" stroke-linejoin="round"/>
<path d="M1230.8 622.4 L1248.4 663.9 L1221.7 705.6 L1229.4 746 L1222.6 787.3 L1209.3 829 L1203.7 870.5 L1207.2 912.1 L1194.9 953.8 L1202.8 994.1" stroke="#739a62" stroke-width="1.3" fill="none" stroke-linejoin="round"/>
<circle cx="1233.5" cy="622.4" r="6.25" fill="#cb5f29" stroke="#1a1a1a" stroke-width="1.1"/>
<circle cx="1269" cy="663.9" r="6.25" fill="#cb5f29" stroke="#1a1a1a" stroke-width="1.1"/>
<circle cx="1250.1" cy="705.6" r="6.25" fill="#cb5f29" stroke="#1a1a1a" stroke-width="1.1"/>
<circle cx="1238" cy="746" r="6.25" fill="#cb5f29" stroke="#1a1a1a" stroke-width="1.1"/>
<circle cx="1236.5" cy="787.3" r="6.25" fill="#cb5f29" stroke="#1a1a1a" stroke-width="1.1"/>
<circle cx="1228.6" cy="829" r="6.25" fill="#cb5f29" stroke="#1a1a1a" stroke-width="1.1"/>
<circle cx="1226.1" cy="870.5" r="6.25" fill="#cb5f29" stroke="#1a1a1a" stroke-width="1.1"/>
<circle cx="1221.7" cy="912.1" r="6.25" fill="#cb5f29" stroke="#1a1a1a" stroke-width="1.1"/>
<circle cx="1222.1" cy="953.8" r="6.25" fill="#cb5f29" stroke="#1a1a1a" stroke-width="1.1"/>
<circle cx="1224.2" cy="994.1" r="6.25" fill="#cb5f29" stroke="#1a1a1a" stroke-width="1.1"/>
<circle cx="1230.8" cy="622.4" r="6.25" fill="#3a5a2b" stroke="#1a1a1a" stroke-width="1.1"/>
<circle cx="1248.4" cy="663.9" r="6.25" fill="#3a5a2b" stroke="#1a1a1a" stroke-width="1.1"/>
<circle cx="1221.7" cy="705.6" r="6.25" fill="#3a5a2b" stroke="#1a1a1a" stroke-width="1.1"/>
<circle cx="1229.4" cy="746" r="6.25" fill="#3a5a2b" stroke="#1a1a1a" stroke-width="1.1"/>
<circle cx="1222.6" cy="787.3" r="6.25" fill="#3a5a2b" stroke="#1a1a1a" stroke-width="1.1"/>
<circle cx="1209.3" cy="829" r="6.25" fill="#3a5a2b" stroke="#1a1a1a" stroke-width="1.1"/>
<circle cx="1203.7" cy="870.5" r="6.25" fill="#3a5a2b" stroke="#1a1a1a" stroke-width="1.1"/>
<circle cx="1207.2" cy="912.1" r="6.25" fill="#3a5a2b" stroke="#1a1a1a" stroke-width="1.1"/>
<circle cx="1194.9" cy="953.8" r="6.25" fill="#3a5a2b" stroke="#1a1a1a" stroke-width="1.1"/>
<circle cx="1202.8" cy="994.1" r="6.25" fill="#3a5a2b" stroke="#1a1a1a" stroke-width="1.1"/>
<path d="M1385.4 599.5H1670.4" stroke="#4a4a4a" stroke-width="1.7" fill="none"/>
<path d="M1385.4 599.5V607.5" stroke="#4a4a4a" stroke-width="1.6" fill="none"/>
<path d="M1528.2 599.5V607.5" stroke="#4a4a4a" stroke-width="1.6" fill="none"/>
<path d="M1669.6 599.5V607.5" stroke="#4a4a4a" stroke-width="1.6" fill="none"/>
<text x="1385.4" y="578.5" font-size="24" text-anchor="middle">0</text>
<text x="1528.2" y="578.5" font-size="24" text-anchor="middle">0.5</text>
<text x="1669.6" y="578.5" font-size="24" text-anchor="middle">1</text>
<path d="M1500.2 620.9 L1651.1 662.3 L1574.2 703.8 L1550.8 745.8 L1535.1 787.3 L1534.2 829 L1536.3 870.5 L1533.7 912.1 L1527.5 953.8 L1524 995.3" stroke="#e3864a" stroke-width="1.3" fill="none" stroke-linejoin="round"/>
<path d="M1526.2 620.9 L1557.8 662.3 L1571.4 703.8 L1530.4 745.8 L1557.5 787.3 L1567.8 829 L1555.6 870.5 L1552.1 912.1 L1550 953.8 L1550 995.3" stroke="#739a62" stroke-width="1.3" fill="none" stroke-linejoin="round"/>
<path d="M1492.9 620.9H1509.2 M1492.9 617.3V624.5 M1509.2 617.3V624.5" stroke="#222" stroke-width="1.5" fill="none"/>
<circle cx="1500.2" cy="620.9" r="6.00" fill="#cb5f29" stroke="#1a1a1a" stroke-width="1.1"/>
<circle cx="1651.1" cy="662.3" r="6.00" fill="#cb5f29" stroke="#1a1a1a" stroke-width="1.1"/>
<circle cx="1574.2" cy="703.8" r="6.00" fill="#cb5f29" stroke="#1a1a1a" stroke-width="1.1"/>
<circle cx="1550.8" cy="745.8" r="6.00" fill="#cb5f29" stroke="#1a1a1a" stroke-width="1.1"/>
<circle cx="1535.1" cy="787.3" r="6.00" fill="#cb5f29" stroke="#1a1a1a" stroke-width="1.1"/>
<circle cx="1534.2" cy="829" r="6.00" fill="#cb5f29" stroke="#1a1a1a" stroke-width="1.1"/>
<circle cx="1536.3" cy="870.5" r="6.00" fill="#cb5f29" stroke="#1a1a1a" stroke-width="1.1"/>
<circle cx="1533.7" cy="912.1" r="6.00" fill="#cb5f29" stroke="#1a1a1a" stroke-width="1.1"/>
<circle cx="1527.5" cy="953.8" r="6.00" fill="#cb5f29" stroke="#1a1a1a" stroke-width="1.1"/>
<circle cx="1524" cy="995.3" r="6.00" fill="#cb5f29" stroke="#1a1a1a" stroke-width="1.1"/>
<circle cx="1526.2" cy="620.9" r="6.00" fill="#3a5a2b" stroke="#1a1a1a" stroke-width="1.1"/>
<circle cx="1557.8" cy="662.3" r="6.00" fill="#3a5a2b" stroke="#1a1a1a" stroke-width="1.1"/>
<circle cx="1571.4" cy="703.8" r="6.00" fill="#3a5a2b" stroke="#1a1a1a" stroke-width="1.1"/>
<circle cx="1530.4" cy="745.8" r="6.00" fill="#3a5a2b" stroke="#1a1a1a" stroke-width="1.1"/>
<circle cx="1557.5" cy="787.3" r="6.00" fill="#3a5a2b" stroke="#1a1a1a" stroke-width="1.1"/>
<circle cx="1567.8" cy="829" r="6.00" fill="#3a5a2b" stroke="#1a1a1a" stroke-width="1.1"/>
<circle cx="1555.6" cy="870.5" r="6.00" fill="#3a5a2b" stroke="#1a1a1a" stroke-width="1.1"/>
<circle cx="1552.1" cy="912.1" r="6.00" fill="#3a5a2b" stroke="#1a1a1a" stroke-width="1.1"/>
<circle cx="1550" cy="953.8" r="6.00" fill="#3a5a2b" stroke="#1a1a1a" stroke-width="1.1"/>
<circle cx="1550" cy="995.3" r="6.00" fill="#3a5a2b" stroke="#1a1a1a" stroke-width="1.1"/>
<rect x="21.3" y="1042.4" width="42.5" height="40.7" fill="none" stroke="#333" stroke-width="1.3"/>
<text x="42.6" y="1073.3" font-size="29.5" font-weight="bold" text-anchor="middle">C</text>
<text x="158.6" y="1051.6" font-size="27" font-weight="bold">Chla</text>
<text x="224.6" y="1051.5" font-size="27" font-weight="normal">(µg cm</text>
<text x="308.6" y="1042.5" font-size="15.5" font-weight="normal">-3</text>
<text x="325.2" y="1051.5" font-size="27" font-weight="normal">)</text>
<path d="M102.4 1108.9H382" stroke="#4a4a4a" stroke-width="1.7" fill="none"/>
<path d="M164.5 1108.9V1116.9" stroke="#4a4a4a" stroke-width="1.6" fill="none"/>
<path d="M218.3 1108.9V1116.9" stroke="#4a4a4a" stroke-width="1.6" fill="none"/>
<path d="M273.5 1108.9V1116.9" stroke="#4a4a4a" stroke-width="1.6" fill="none"/>
<path d="M327.4 1108.9V1116.9" stroke="#4a4a4a" stroke-width="1.6" fill="none"/>
<path d="M381.2 1108.9V1116.9" stroke="#4a4a4a" stroke-width="1.6" fill="none"/>
<text x="110.9" y="1087.9" font-size="24" text-anchor="middle">0</text>
<text x="164.5" y="1087.9" font-size="24" text-anchor="middle">5</text>
<text x="218.3" y="1087.9" font-size="24" text-anchor="middle">10</text>
<text x="273.5" y="1087.9" font-size="24" text-anchor="middle">15</text>
<text x="327.4" y="1087.9" font-size="24" text-anchor="middle">20</text>
<text x="381.2" y="1087.9" font-size="24" text-anchor="middle">25</text>
<path d="M110.9 1108.9V1509.4" stroke="#141414" stroke-width="1.5" fill="none"/>
<text x="90.2" y="1116.6" font-size="24" text-anchor="end">0</text>
<path d="M102.4 1149H110.9" stroke="#141414" stroke-width="1.5" fill="none"/>
<text x="90.2" y="1156.7" font-size="24" text-anchor="end">0.5</text>
<path d="M102.4 1189H110.9" stroke="#141414" stroke-width="1.5" fill="none"/>
<text x="90.2" y="1196.7" font-size="24" text-anchor="end">1</text>
<path d="M102.4 1229.1H110.9" stroke="#141414" stroke-width="1.5" fill="none"/>
<text x="90.2" y="1236.8" font-size="24" text-anchor="end">1.5</text>
<path d="M102.4 1269.1H110.9" stroke="#141414" stroke-width="1.5" fill="none"/>
<text x="90.2" y="1276.8" font-size="24" text-anchor="end">2</text>
<path d="M102.4 1309.2H110.9" stroke="#141414" stroke-width="1.5" fill="none"/>
<text x="90.2" y="1316.9" font-size="24" text-anchor="end">2.5</text>
<path d="M102.4 1349.2H110.9" stroke="#141414" stroke-width="1.5" fill="none"/>
<text x="90.2" y="1356.9" font-size="24" text-anchor="end">3</text>
<path d="M102.4 1389.2H110.9" stroke="#141414" stroke-width="1.5" fill="none"/>
<text x="90.2" y="1397" font-size="24" text-anchor="end">3.5</text>
<path d="M102.4 1429.3H110.9" stroke="#141414" stroke-width="1.5" fill="none"/>
<text x="90.2" y="1437" font-size="24" text-anchor="end">4</text>
<path d="M102.4 1469.4H110.9" stroke="#141414" stroke-width="1.5" fill="none"/>
<text x="90.2" y="1477.1" font-size="24" text-anchor="end">4.5</text>
<path d="M102.4 1509.4H110.9" stroke="#141414" stroke-width="1.5" fill="none"/>
<text x="90.2" y="1517.1" font-size="24" text-anchor="end">5</text>
<text transform="translate(48.8 1295.5) rotate(-90)" font-size="27" text-anchor="middle"><tspan font-weight="bold">Depth</tspan> (cm)</text>
<path d="M183.6 1147.7 L155.7 1228.4 L163.4 1308.4 L147 1388.5 L137.7 1469.1" stroke="#e3864a" stroke-width="1.3" fill="none" stroke-linejoin="round"/>
<path d="M165.4 1147.7 L158.7 1228.4 L149.9 1308.4 L144.7 1388.5 L142.1 1469.1" stroke="#739a62" stroke-width="1.3" fill="none" stroke-linejoin="round"/>
<path d="M179.5 1147.7H190.2 M179.5 1144.1V1151.3 M190.2 1144.1V1151.3" stroke="#222" stroke-width="1.5" fill="none"/>
<circle cx="183.6" cy="1147.7" r="6.60" fill="#cb5f29" stroke="#1a1a1a" stroke-width="1.1"/>
<circle cx="155.7" cy="1228.4" r="6.60" fill="#cb5f29" stroke="#1a1a1a" stroke-width="1.1"/>
<circle cx="163.4" cy="1308.4" r="6.60" fill="#cb5f29" stroke="#1a1a1a" stroke-width="1.1"/>
<circle cx="147" cy="1388.5" r="6.60" fill="#cb5f29" stroke="#1a1a1a" stroke-width="1.1"/>
<circle cx="137.7" cy="1469.1" r="6.60" fill="#cb5f29" stroke="#1a1a1a" stroke-width="1.1"/>
<circle cx="165.4" cy="1147.7" r="6.60" fill="#3a5a2b" stroke="#1a1a1a" stroke-width="1.1"/>
<circle cx="158.7" cy="1228.4" r="6.60" fill="#3a5a2b" stroke="#1a1a1a" stroke-width="1.1"/>
<circle cx="149.9" cy="1308.4" r="6.60" fill="#3a5a2b" stroke="#1a1a1a" stroke-width="1.1"/>
<circle cx="144.7" cy="1388.5" r="6.60" fill="#3a5a2b" stroke="#1a1a1a" stroke-width="1.1"/>
<circle cx="142.1" cy="1469.1" r="6.60" fill="#3a5a2b" stroke="#1a1a1a" stroke-width="1.1"/>
<path d="M427.2 1109H699.7" stroke="#4a4a4a" stroke-width="1.7" fill="none"/>
<path d="M427.2 1109V1117" stroke="#4a4a4a" stroke-width="1.6" fill="none"/>
<path d="M481 1109V1117" stroke="#4a4a4a" stroke-width="1.6" fill="none"/>
<path d="M536 1109V1117" stroke="#4a4a4a" stroke-width="1.6" fill="none"/>
<path d="M590.3 1109V1117" stroke="#4a4a4a" stroke-width="1.6" fill="none"/>
<path d="M644.3 1109V1117" stroke="#4a4a4a" stroke-width="1.6" fill="none"/>
<path d="M698.9 1109V1117" stroke="#4a4a4a" stroke-width="1.6" fill="none"/>
<text x="427.2" y="1088" font-size="24" text-anchor="middle">0</text>
<text x="481" y="1088" font-size="24" text-anchor="middle">5</text>
<text x="536" y="1088" font-size="24" text-anchor="middle">10</text>
<text x="590.3" y="1088" font-size="24" text-anchor="middle">15</text>
<text x="644.3" y="1088" font-size="24" text-anchor="middle">20</text>
<text x="698.9" y="1088" font-size="24" text-anchor="middle">25</text>
<path d="M567.4 1148.7 L483 1229.7 L465 1309.3 L463.8 1390.4 L462.9 1470.1" stroke="#e3864a" stroke-width="1.3" fill="none" stroke-linejoin="round"/>
<path d="M580.3 1148.7 L486.4 1229.7 L475.7 1309.3 L473.4 1390.4 L472.2 1470.1" stroke="#739a62" stroke-width="1.3" fill="none" stroke-linejoin="round"/>
<path d="M547.6 1148.7H591.3 M547.6 1145.1V1152.3 M591.3 1145.1V1152.3" stroke="#222" stroke-width="1.5" fill="none"/>
<path d="M544.6 1148.7H613.9 M544.6 1145.1V1152.3 M613.9 1145.1V1152.3" stroke="#222" stroke-width="1.5" fill="none"/>
<path d="M478 1229.7H494.9 M478 1226.1V1233.3 M494.9 1226.1V1233.3" stroke="#222" stroke-width="1.5" fill="none"/>
<circle cx="567.4" cy="1148.7" r="6.65" fill="#cb5f29" stroke="#1a1a1a" stroke-width="1.1"/>
<circle cx="483" cy="1229.7" r="6.65" fill="#cb5f29" stroke="#1a1a1a" stroke-width="1.1"/>
<circle cx="465" cy="1309.3" r="6.65" fill="#cb5f29" stroke="#1a1a1a" stroke-width="1.1"/>
<circle cx="463.8" cy="1390.4" r="6.65" fill="#cb5f29" stroke="#1a1a1a" stroke-width="1.1"/>
<circle cx="462.9" cy="1470.1" r="6.65" fill="#cb5f29" stroke="#1a1a1a" stroke-width="1.1"/>
<circle cx="580.3" cy="1148.7" r="6.65" fill="#3a5a2b" stroke="#1a1a1a" stroke-width="1.1"/>
<circle cx="486.4" cy="1229.7" r="6.65" fill="#3a5a2b" stroke="#1a1a1a" stroke-width="1.1"/>
<circle cx="475.7" cy="1309.3" r="6.65" fill="#3a5a2b" stroke="#1a1a1a" stroke-width="1.1"/>
<circle cx="473.4" cy="1390.4" r="6.65" fill="#3a5a2b" stroke="#1a1a1a" stroke-width="1.1"/>
<circle cx="472.2" cy="1470.1" r="6.65" fill="#3a5a2b" stroke="#1a1a1a" stroke-width="1.1"/>
<path d="M748.4 1109.6H1019.7" stroke="#4a4a4a" stroke-width="1.7" fill="none"/>
<path d="M748.4 1109.6V1117.6" stroke="#4a4a4a" stroke-width="1.6" fill="none"/>
<path d="M802.4 1109.6V1117.6" stroke="#4a4a4a" stroke-width="1.6" fill="none"/>
<path d="M856 1109.6V1117.6" stroke="#4a4a4a" stroke-width="1.6" fill="none"/>
<path d="M911.7 1109.6V1117.6" stroke="#4a4a4a" stroke-width="1.6" fill="none"/>
<path d="M965.3 1109.6V1117.6" stroke="#4a4a4a" stroke-width="1.6" fill="none"/>
<path d="M1018.9 1109.6V1117.6" stroke="#4a4a4a" stroke-width="1.6" fill="none"/>
<text x="748.4" y="1088.6" font-size="24" text-anchor="middle">0</text>
<text x="802.4" y="1088.6" font-size="24" text-anchor="middle">5</text>
<text x="856" y="1088.6" font-size="24" text-anchor="middle">10</text>
<text x="911.7" y="1088.6" font-size="24" text-anchor="middle">15</text>
<text x="965.3" y="1088.6" font-size="24" text-anchor="middle">20</text>
<text x="1018.9" y="1088.6" font-size="24" text-anchor="middle">25</text>
<path d="M864.6 1149.3 L795.5 1230.7 L794 1310.2 L791.9 1389.9 L787.7 1469.6" stroke="#e3864a" stroke-width="1.3" fill="none" stroke-linejoin="round"/>
<path d="M836.6 1149.3 L799.4 1230.7 L780.3 1310.2 L780.3 1389.9 L778.2 1469.6" stroke="#739a62" stroke-width="1.3" fill="none" stroke-linejoin="round"/>
<path d="M831 1149.3H898.2 M831 1145.7V1152.9 M898.2 1145.7V1152.9" stroke="#222" stroke-width="1.5" fill="none"/>
<path d="M786.9 1230.7H805.8 M786.9 1227.1V1234.3 M805.8 1227.1V1234.3" stroke="#222" stroke-width="1.5" fill="none"/>
<path d="M784.6 1310.2H803.4 M784.6 1306.6V1313.8 M803.4 1306.6V1313.8" stroke="#222" stroke-width="1.5" fill="none"/>
<circle cx="864.6" cy="1149.3" r="6.05" fill="#cb5f29" stroke="#1a1a1a" stroke-width="1.1"/>
<circle cx="795.5" cy="1230.7" r="6.05" fill="#cb5f29" stroke="#1a1a1a" stroke-width="1.1"/>
<circle cx="794" cy="1310.2" r="6.05" fill="#cb5f29" stroke="#1a1a1a" stroke-width="1.1"/>
<circle cx="791.9" cy="1389.9" r="6.05" fill="#cb5f29" stroke="#1a1a1a" stroke-width="1.1"/>
<circle cx="787.7" cy="1469.6" r="6.05" fill="#cb5f29" stroke="#1a1a1a" stroke-width="1.1"/>
<circle cx="836.6" cy="1149.3" r="6.05" fill="#3a5a2b" stroke="#1a1a1a" stroke-width="1.1"/>
<circle cx="799.4" cy="1230.7" r="6.05" fill="#3a5a2b" stroke="#1a1a1a" stroke-width="1.1"/>
<circle cx="780.3" cy="1310.2" r="6.05" fill="#3a5a2b" stroke="#1a1a1a" stroke-width="1.1"/>
<circle cx="780.3" cy="1389.9" r="6.05" fill="#3a5a2b" stroke="#1a1a1a" stroke-width="1.1"/>
<circle cx="778.2" cy="1469.6" r="6.05" fill="#3a5a2b" stroke="#1a1a1a" stroke-width="1.1"/>
<path d="M1062.4 1113H1335.3" stroke="#4a4a4a" stroke-width="1.7" fill="none"/>
<path d="M1062.4 1113V1121" stroke="#4a4a4a" stroke-width="1.6" fill="none"/>
<path d="M1116.9 1113V1121" stroke="#4a4a4a" stroke-width="1.6" fill="none"/>
<path d="M1170.7 1113V1121" stroke="#4a4a4a" stroke-width="1.6" fill="none"/>
<path d="M1226.1 1113V1121" stroke="#4a4a4a" stroke-width="1.6" fill="none"/>
<path d="M1279.7 1113V1121" stroke="#4a4a4a" stroke-width="1.6" fill="none"/>
<path d="M1334.5 1113V1121" stroke="#4a4a4a" stroke-width="1.6" fill="none"/>
<text x="1062.4" y="1092" font-size="24" text-anchor="middle">0</text>
<text x="1116.9" y="1092" font-size="24" text-anchor="middle">5</text>
<text x="1170.7" y="1092" font-size="24" text-anchor="middle">10</text>
<text x="1226.1" y="1092" font-size="24" text-anchor="middle">15</text>
<text x="1279.7" y="1092" font-size="24" text-anchor="middle">20</text>
<text x="1334.5" y="1092" font-size="24" text-anchor="middle">25</text>
<path d="M1132 1151.7 L1094 1231.1 L1077.5 1312.3 L1068 1392 L1073.3 1471.7" stroke="#e3864a" stroke-width="1.3" fill="none" stroke-linejoin="round"/>
<path d="M1120.4 1151.7 L1084.7 1231.1 L1076.8 1312.3 L1075.9 1392 L1075.6 1471.7" stroke="#739a62" stroke-width="1.3" fill="none" stroke-linejoin="round"/>
<path d="M1117.3 1151.7H1146.7 M1117.3 1148.1V1155.3 M1146.7 1148.1V1155.3" stroke="#222" stroke-width="1.5" fill="none"/>
<path d="M1088.4 1231.1H1099.6 M1088.4 1227.5V1234.7 M1099.6 1227.5V1234.7" stroke="#222" stroke-width="1.5" fill="none"/>
<circle cx="1132" cy="1151.7" r="6.25" fill="#cb5f29" stroke="#1a1a1a" stroke-width="1.1"/>
<circle cx="1094" cy="1231.1" r="6.25" fill="#cb5f29" stroke="#1a1a1a" stroke-width="1.1"/>
<circle cx="1077.5" cy="1312.3" r="6.25" fill="#cb5f29" stroke="#1a1a1a" stroke-width="1.1"/>
<circle cx="1068" cy="1392" r="6.25" fill="#cb5f29" stroke="#1a1a1a" stroke-width="1.1"/>
<circle cx="1073.3" cy="1471.7" r="6.25" fill="#cb5f29" stroke="#1a1a1a" stroke-width="1.1"/>
<circle cx="1120.4" cy="1151.7" r="6.25" fill="#3a5a2b" stroke="#1a1a1a" stroke-width="1.1"/>
<circle cx="1084.7" cy="1231.1" r="6.25" fill="#3a5a2b" stroke="#1a1a1a" stroke-width="1.1"/>
<circle cx="1076.8" cy="1312.3" r="6.25" fill="#3a5a2b" stroke="#1a1a1a" stroke-width="1.1"/>
<circle cx="1075.9" cy="1392" r="6.25" fill="#3a5a2b" stroke="#1a1a1a" stroke-width="1.1"/>
<circle cx="1075.6" cy="1471.7" r="6.25" fill="#3a5a2b" stroke="#1a1a1a" stroke-width="1.1"/>
<path d="M1378.4 1112.9H1663.4" stroke="#4a4a4a" stroke-width="1.7" fill="none"/>
<path d="M1378.4 1112.9V1120.9" stroke="#4a4a4a" stroke-width="1.6" fill="none"/>
<path d="M1434.5 1112.9V1120.9" stroke="#4a4a4a" stroke-width="1.6" fill="none"/>
<path d="M1491.9 1112.9V1120.9" stroke="#4a4a4a" stroke-width="1.6" fill="none"/>
<path d="M1549.4 1112.9V1120.9" stroke="#4a4a4a" stroke-width="1.6" fill="none"/>
<path d="M1605.7 1112.9V1120.9" stroke="#4a4a4a" stroke-width="1.6" fill="none"/>
<path d="M1662.6 1112.9V1120.9" stroke="#4a4a4a" stroke-width="1.6" fill="none"/>
<text x="1378.4" y="1091.9" font-size="24" text-anchor="middle">0</text>
<text x="1434.5" y="1091.9" font-size="24" text-anchor="middle">5</text>
<text x="1491.9" y="1091.9" font-size="24" text-anchor="middle">10</text>
<text x="1549.4" y="1091.9" font-size="24" text-anchor="middle">15</text>
<text x="1605.7" y="1091.9" font-size="24" text-anchor="middle">20</text>
<text x="1662.6" y="1091.9" font-size="24" text-anchor="middle">25</text>
<path d="M1608.1 1152.9 L1469.9 1233.8 L1439.7 1314.5 L1399.3 1395.7 L1390.2 1476.3" stroke="#e3864a" stroke-width="1.3" fill="none" stroke-linejoin="round"/>
<path d="M1483.5 1152.9 L1494.9 1233.8 L1513.7 1314.5 L1512.8 1395.7 L1500.5 1476.3" stroke="#739a62" stroke-width="1.3" fill="none" stroke-linejoin="round"/>
<path d="M1589.7 1152.9H1628.7 M1589.7 1149.3V1156.5 M1628.7 1149.3V1156.5" stroke="#222" stroke-width="1.5" fill="none"/>
<path d="M1459.3 1233.8H1481.9 M1459.3 1230.2V1237.4 M1481.9 1230.2V1237.4" stroke="#222" stroke-width="1.5" fill="none"/>
<path d="M1427.5 1314.5H1453.2 M1427.5 1310.9V1318.1 M1453.2 1310.9V1318.1" stroke="#222" stroke-width="1.5" fill="none"/>
<path d="M1478 1152.9H1489.2 M1478 1149.3V1156.5 M1489.2 1149.3V1156.5" stroke="#222" stroke-width="1.5" fill="none"/>
<path d="M1489.5 1233.8H1501 M1489.5 1230.2V1237.4 M1501 1230.2V1237.4" stroke="#222" stroke-width="1.5" fill="none"/>
<circle cx="1608.1" cy="1152.9" r="6.00" fill="#cb5f29" stroke="#1a1a1a" stroke-width="1.1"/>
<circle cx="1469.9" cy="1233.8" r="6.00" fill="#cb5f29" stroke="#1a1a1a" stroke-width="1.1"/>
<circle cx="1439.7" cy="1314.5" r="6.00" fill="#cb5f29" stroke="#1a1a1a" stroke-width="1.1"/>
<circle cx="1399.3" cy="1395.7" r="6.00" fill="#cb5f29" stroke="#1a1a1a" stroke-width="1.1"/>
<circle cx="1390.2" cy="1476.3" r="6.00" fill="#cb5f29" stroke="#1a1a1a" stroke-width="1.1"/>
<circle cx="1483.5" cy="1152.9" r="6.00" fill="#3a5a2b" stroke="#1a1a1a" stroke-width="1.1"/>
<circle cx="1494.9" cy="1233.8" r="6.00" fill="#3a5a2b" stroke="#1a1a1a" stroke-width="1.1"/>
<circle cx="1513.7" cy="1314.5" r="6.00" fill="#3a5a2b" stroke="#1a1a1a" stroke-width="1.1"/>
<circle cx="1512.8" cy="1395.7" r="6.00" fill="#3a5a2b" stroke="#1a1a1a" stroke-width="1.1"/>
<circle cx="1500.5" cy="1476.3" r="6.00" fill="#3a5a2b" stroke="#1a1a1a" stroke-width="1.1"/>
<rect x="19.1" y="1537.5" width="44.7" height="44.1" fill="none" stroke="#333" stroke-width="1.3"/>
<text x="42.3" y="1569.6" font-size="29.5" font-weight="bold" text-anchor="middle">D</text>
<text x="158.7" y="1556.9" font-size="27" font-weight="bold">Chla/Phaeo</text>
<path d="M104.1 1605H384.1" stroke="#4a4a4a" stroke-width="1.7" fill="none"/>
<path d="M248.6 1605V1613" stroke="#4a4a4a" stroke-width="1.6" fill="none"/>
<path d="M383.3 1605V1613" stroke="#4a4a4a" stroke-width="1.6" fill="none"/>
<text x="112.6" y="1584" font-size="24" text-anchor="middle">0</text>
<text x="248.6" y="1584" font-size="24" text-anchor="middle">0.5</text>
<text x="383.3" y="1584" font-size="24" text-anchor="middle">1</text>
<path d="M112.6 1605V2005.8" stroke="#141414" stroke-width="1.5" fill="none"/>
<text x="91.9" y="1612.7" font-size="24" text-anchor="end">0</text>
<path d="M104.1 1645.1H112.6" stroke="#141414" stroke-width="1.5" fill="none"/>
<text x="91.9" y="1652.8" font-size="24" text-anchor="end">0.5</text>
<path d="M104.1 1685.2H112.6" stroke="#141414" stroke-width="1.5" fill="none"/>
<text x="91.9" y="1692.9" font-size="24" text-anchor="end">1</text>
<path d="M104.1 1725.2H112.6" stroke="#141414" stroke-width="1.5" fill="none"/>
<text x="91.9" y="1732.9" font-size="24" text-anchor="end">1.5</text>
<path d="M104.1 1765.3H112.6" stroke="#141414" stroke-width="1.5" fill="none"/>
<text x="91.9" y="1773" font-size="24" text-anchor="end">2</text>
<path d="M104.1 1805.4H112.6" stroke="#141414" stroke-width="1.5" fill="none"/>
<text x="91.9" y="1813.1" font-size="24" text-anchor="end">2.5</text>
<path d="M104.1 1845.5H112.6" stroke="#141414" stroke-width="1.5" fill="none"/>
<text x="91.9" y="1853.2" font-size="24" text-anchor="end">3</text>
<path d="M104.1 1885.5H112.6" stroke="#141414" stroke-width="1.5" fill="none"/>
<text x="91.9" y="1893.2" font-size="24" text-anchor="end">3.5</text>
<path d="M104.1 1925.6H112.6" stroke="#141414" stroke-width="1.5" fill="none"/>
<text x="91.9" y="1933.3" font-size="24" text-anchor="end">4</text>
<path d="M104.1 1965.7H112.6" stroke="#141414" stroke-width="1.5" fill="none"/>
<text x="91.9" y="1973.4" font-size="24" text-anchor="end">4.5</text>
<path d="M104.1 2005.8H112.6" stroke="#141414" stroke-width="1.5" fill="none"/>
<text x="91.9" y="2013.5" font-size="24" text-anchor="end">5</text>
<text transform="translate(48.8 1800) rotate(-90)" font-size="27" text-anchor="middle"><tspan font-weight="bold">Depth</tspan> (cm)</text>
<path d="M182.4 1644.4 L178.5 1724.3 L180.2 1805 L180.2 1885 L177.6 1964.8" stroke="#e3864a" stroke-width="1.3" fill="none" stroke-linejoin="round"/>
<path d="M196.9 1644.4 L185.9 1724.3 L180.7 1805 L180.7 1885 L181.3 1964.8" stroke="#739a62" stroke-width="1.3" fill="none" stroke-linejoin="round"/>
<circle cx="182.4" cy="1644.4" r="6.60" fill="#cb5f29" stroke="#1a1a1a" stroke-width="1.1"/>
<circle cx="178.5" cy="1724.3" r="6.60" fill="#cb5f29" stroke="#1a1a1a" stroke-width="1.1"/>
<circle cx="180.2" cy="1805" r="6.60" fill="#cb5f29" stroke="#1a1a1a" stroke-width="1.1"/>
<circle cx="180.2" cy="1885" r="6.60" fill="#cb5f29" stroke="#1a1a1a" stroke-width="1.1"/>
<circle cx="177.6" cy="1964.8" r="6.60" fill="#cb5f29" stroke="#1a1a1a" stroke-width="1.1"/>
<circle cx="196.9" cy="1644.4" r="6.60" fill="#3a5a2b" stroke="#1a1a1a" stroke-width="1.1"/>
<circle cx="185.9" cy="1724.3" r="6.60" fill="#3a5a2b" stroke="#1a1a1a" stroke-width="1.1"/>
<circle cx="180.7" cy="1805" r="6.60" fill="#3a5a2b" stroke="#1a1a1a" stroke-width="1.1"/>
<circle cx="180.7" cy="1885" r="6.60" fill="#3a5a2b" stroke="#1a1a1a" stroke-width="1.1"/>
<circle cx="181.3" cy="1964.8" r="6.60" fill="#3a5a2b" stroke="#1a1a1a" stroke-width="1.1"/>
<path d="M425.8 1606.6H697.7" stroke="#4a4a4a" stroke-width="1.7" fill="none"/>
<path d="M425.8 1606.6V1614.6" stroke="#4a4a4a" stroke-width="1.6" fill="none"/>
<path d="M562.3 1606.6V1614.6" stroke="#4a4a4a" stroke-width="1.6" fill="none"/>
<path d="M696.9 1606.6V1614.6" stroke="#4a4a4a" stroke-width="1.6" fill="none"/>
<text x="425.8" y="1585.6" font-size="24" text-anchor="middle">0</text>
<text x="562.3" y="1585.6" font-size="24" text-anchor="middle">0.5</text>
<text x="696.9" y="1585.6" font-size="24" text-anchor="middle">1</text>
<path d="M494.7 1644.7 L494.7 1725.2 L494.8 1805.3 L494.8 1885 L487.9 1965.7" stroke="#e3864a" stroke-width="1.3" fill="none" stroke-linejoin="round"/>
<path d="M606 1644.7 L461 1725.2 L440.7 1805.3 L428 1885 L435.1 1965.7" stroke="#739a62" stroke-width="1.3" fill="none" stroke-linejoin="round"/>
<path d="M485.4 1644.7H507.2 M485.4 1641.1V1648.3 M507.2 1641.1V1648.3" stroke="#222" stroke-width="1.5" fill="none"/>
<path d="M595.6 1644.7H618.5 M595.6 1641.1V1648.3 M618.5 1641.1V1648.3" stroke="#222" stroke-width="1.5" fill="none"/>
<path d="M432.1 1805.3H451.4 M432.1 1801.7V1808.9 M451.4 1801.7V1808.9" stroke="#222" stroke-width="1.5" fill="none"/>
<circle cx="494.7" cy="1644.7" r="6.65" fill="#cb5f29" stroke="#1a1a1a" stroke-width="1.1"/>
<circle cx="494.7" cy="1725.2" r="6.65" fill="#cb5f29" stroke="#1a1a1a" stroke-width="1.1"/>
<circle cx="494.8" cy="1805.3" r="6.65" fill="#cb5f29" stroke="#1a1a1a" stroke-width="1.1"/>
<circle cx="494.8" cy="1885" r="6.65" fill="#cb5f29" stroke="#1a1a1a" stroke-width="1.1"/>
<circle cx="487.9" cy="1965.7" r="6.65" fill="#cb5f29" stroke="#1a1a1a" stroke-width="1.1"/>
<circle cx="606" cy="1644.7" r="6.65" fill="#3a5a2b" stroke="#1a1a1a" stroke-width="1.1"/>
<circle cx="461" cy="1725.2" r="6.65" fill="#3a5a2b" stroke="#1a1a1a" stroke-width="1.1"/>
<circle cx="440.7" cy="1805.3" r="6.65" fill="#3a5a2b" stroke="#1a1a1a" stroke-width="1.1"/>
<circle cx="428" cy="1885" r="6.65" fill="#3a5a2b" stroke="#1a1a1a" stroke-width="1.1"/>
<circle cx="435.1" cy="1965.7" r="6.65" fill="#3a5a2b" stroke="#1a1a1a" stroke-width="1.1"/>
<path d="M748.4 1607.6H1019.7" stroke="#4a4a4a" stroke-width="1.7" fill="none"/>
<path d="M748.4 1607.6V1615.6" stroke="#4a4a4a" stroke-width="1.6" fill="none"/>
<path d="M883.3 1607.6V1615.6" stroke="#4a4a4a" stroke-width="1.6" fill="none"/>
<path d="M1018.9 1607.6V1615.6" stroke="#4a4a4a" stroke-width="1.6" fill="none"/>
<text x="748.4" y="1586.6" font-size="24" text-anchor="middle">0</text>
<text x="883.3" y="1586.6" font-size="24" text-anchor="middle">0.5</text>
<text x="1018.9" y="1586.6" font-size="24" text-anchor="middle">1</text>
<path d="M844.5 1647.3 L854.7 1726.8 L832.1 1808.1 L837.4 1887.6 L807.3 1967.2" stroke="#e3864a" stroke-width="1.3" fill="none" stroke-linejoin="round"/>
<path d="M928.5 1647.3 L783.6 1726.8 L763.6 1808.1 L751.4 1887.6 L757.9 1967.2" stroke="#739a62" stroke-width="1.3" fill="none" stroke-linejoin="round"/>
<path d="M848.7 1726.8H862 M848.7 1723.2V1730.4 M862 1723.2V1730.4" stroke="#222" stroke-width="1.5" fill="none"/>
<path d="M821.3 1808.1H843.4 M821.3 1804.5V1811.7 M843.4 1804.5V1811.7" stroke="#222" stroke-width="1.5" fill="none"/>
<path d="M804.5 1887.6H872.3 M804.5 1884V1891.2 M872.3 1884V1891.2" stroke="#222" stroke-width="1.5" fill="none"/>
<path d="M790.7 1967.2H825 M790.7 1963.6V1970.8 M825 1963.6V1970.8" stroke="#222" stroke-width="1.5" fill="none"/>
<circle cx="844.5" cy="1647.3" r="6.05" fill="#cb5f29" stroke="#1a1a1a" stroke-width="1.1"/>
<circle cx="854.7" cy="1726.8" r="6.05" fill="#cb5f29" stroke="#1a1a1a" stroke-width="1.1"/>
<circle cx="832.1" cy="1808.1" r="6.05" fill="#cb5f29" stroke="#1a1a1a" stroke-width="1.1"/>
<circle cx="837.4" cy="1887.6" r="6.05" fill="#cb5f29" stroke="#1a1a1a" stroke-width="1.1"/>
<circle cx="807.3" cy="1967.2" r="6.05" fill="#cb5f29" stroke="#1a1a1a" stroke-width="1.1"/>
<circle cx="928.5" cy="1647.3" r="6.05" fill="#3a5a2b" stroke="#1a1a1a" stroke-width="1.1"/>
<circle cx="783.6" cy="1726.8" r="6.05" fill="#3a5a2b" stroke="#1a1a1a" stroke-width="1.1"/>
<circle cx="763.6" cy="1808.1" r="6.05" fill="#3a5a2b" stroke="#1a1a1a" stroke-width="1.1"/>
<circle cx="751.4" cy="1887.6" r="6.05" fill="#3a5a2b" stroke="#1a1a1a" stroke-width="1.1"/>
<circle cx="757.9" cy="1967.2" r="6.05" fill="#3a5a2b" stroke="#1a1a1a" stroke-width="1.1"/>
<path d="M1068.4 1607.6H1341.1" stroke="#4a4a4a" stroke-width="1.7" fill="none"/>
<path d="M1068.4 1607.6V1615.6" stroke="#4a4a4a" stroke-width="1.6" fill="none"/>
<path d="M1204.3 1607.6V1615.6" stroke="#4a4a4a" stroke-width="1.6" fill="none"/>
<path d="M1340.3 1607.6V1615.6" stroke="#4a4a4a" stroke-width="1.6" fill="none"/>
<text x="1068.4" y="1586.6" font-size="24" text-anchor="middle">0</text>
<text x="1204.3" y="1586.6" font-size="24" text-anchor="middle">0.5</text>
<text x="1340.3" y="1586.6" font-size="24" text-anchor="middle">1</text>
<path d="M1163.5 1646.3 L1148.2 1726.2 L1145 1806.8 L1147.9 1886.6 L1146 1966.3" stroke="#e3864a" stroke-width="1.3" fill="none" stroke-linejoin="round"/>
<path d="M1144.3 1646.3 L1139.9 1726.2 L1137.2 1806.8 L1136.3 1886.6 L1136.3 1966.3" stroke="#739a62" stroke-width="1.3" fill="none" stroke-linejoin="round"/>
<circle cx="1163.5" cy="1646.3" r="6.25" fill="#cb5f29" stroke="#1a1a1a" stroke-width="1.1"/>
<circle cx="1148.2" cy="1726.2" r="6.25" fill="#cb5f29" stroke="#1a1a1a" stroke-width="1.1"/>
<circle cx="1145" cy="1806.8" r="6.25" fill="#cb5f29" stroke="#1a1a1a" stroke-width="1.1"/>
<circle cx="1147.9" cy="1886.6" r="6.25" fill="#cb5f29" stroke="#1a1a1a" stroke-width="1.1"/>
<circle cx="1146" cy="1966.3" r="6.25" fill="#cb5f29" stroke="#1a1a1a" stroke-width="1.1"/>
<circle cx="1144.3" cy="1646.3" r="6.25" fill="#3a5a2b" stroke="#1a1a1a" stroke-width="1.1"/>
<circle cx="1139.9" cy="1726.2" r="6.25" fill="#3a5a2b" stroke="#1a1a1a" stroke-width="1.1"/>
<circle cx="1137.2" cy="1806.8" r="6.25" fill="#3a5a2b" stroke="#1a1a1a" stroke-width="1.1"/>
<circle cx="1136.3" cy="1886.6" r="6.25" fill="#3a5a2b" stroke="#1a1a1a" stroke-width="1.1"/>
<circle cx="1136.3" cy="1966.3" r="6.25" fill="#3a5a2b" stroke="#1a1a1a" stroke-width="1.1"/>
<path d="M1384 1604.9H1669.4" stroke="#4a4a4a" stroke-width="1.7" fill="none"/>
<path d="M1384 1604.9V1612.9" stroke="#4a4a4a" stroke-width="1.6" fill="none"/>
<path d="M1526.8 1604.9V1612.9" stroke="#4a4a4a" stroke-width="1.6" fill="none"/>
<path d="M1668.6 1604.9V1612.9" stroke="#4a4a4a" stroke-width="1.6" fill="none"/>
<text x="1384" y="1583.9" font-size="24" text-anchor="middle">0</text>
<text x="1526.8" y="1583.9" font-size="24" text-anchor="middle">0.5</text>
<text x="1668.6" y="1583.9" font-size="24" text-anchor="middle">1</text>
<path d="M1439.5 1645.3 L1400.4 1727.2 L1394.9 1808.1 L1392.4 1888.7 L1398 1969.8" stroke="#e3864a" stroke-width="1.3" fill="none" stroke-linejoin="round"/>
<path d="M1484.5 1645.3 L1467.9 1727.2 L1474.7 1808.1 L1478 1888.7 L1517.7 1969.8" stroke="#739a62" stroke-width="1.3" fill="none" stroke-linejoin="round"/>
<path d="M1432.3 1645.3H1448.9 M1432.3 1641.7V1648.9 M1448.9 1641.7V1648.9" stroke="#222" stroke-width="1.5" fill="none"/>
<path d="M1491.9 1969.8H1545.1 M1491.9 1966.2V1973.4 M1545.1 1966.2V1973.4" stroke="#222" stroke-width="1.5" fill="none"/>
<circle cx="1439.5" cy="1645.3" r="6.00" fill="#cb5f29" stroke="#1a1a1a" stroke-width="1.1"/>
<circle cx="1400.4" cy="1727.2" r="6.00" fill="#cb5f29" stroke="#1a1a1a" stroke-width="1.1"/>
<circle cx="1394.9" cy="1808.1" r="6.00" fill="#cb5f29" stroke="#1a1a1a" stroke-width="1.1"/>
<circle cx="1392.4" cy="1888.7" r="6.00" fill="#cb5f29" stroke="#1a1a1a" stroke-width="1.1"/>
<circle cx="1398" cy="1969.8" r="6.00" fill="#cb5f29" stroke="#1a1a1a" stroke-width="1.1"/>
<circle cx="1484.5" cy="1645.3" r="6.00" fill="#3a5a2b" stroke="#1a1a1a" stroke-width="1.1"/>
<circle cx="1467.9" cy="1727.2" r="6.00" fill="#3a5a2b" stroke="#1a1a1a" stroke-width="1.1"/>
<circle cx="1474.7" cy="1808.1" r="6.00" fill="#3a5a2b" stroke="#1a1a1a" stroke-width="1.1"/>
<circle cx="1478" cy="1888.7" r="6.00" fill="#3a5a2b" stroke="#1a1a1a" stroke-width="1.1"/>
<circle cx="1517.7" cy="1969.8" r="6.00" fill="#3a5a2b" stroke="#1a1a1a" stroke-width="1.1"/>
<path d="M266.1 172.0H296.1" stroke="#e3864a" stroke-width="1.5"/>
<circle cx="281.9" cy="172.1" r="5.60" fill="#cb5f29" stroke="#1a1a1a" stroke-width="1.1"/>
<text x="298.6" y="177.8" font-size="20.5">Bonanza</text>
<path d="M266.1 202.4H296.1" stroke="#4f7a3a" stroke-width="1.5"/>
<circle cx="281.6" cy="202.6" r="5.60" fill="#3a5a2b" stroke="#1a1a1a" stroke-width="1.1"/>
<text x="298.6" y="209.3" font-size="20.5">Lebrija</text>
<text x="396.3" y="2018" font-size="23.5" font-weight="bold" text-anchor="end">Nov'18</text>
<text x="685" y="2019" font-size="23.5" font-weight="bold" text-anchor="end">Feb'19</text>
<text x="1028.4" y="2010.6" font-size="23.5" font-weight="bold" text-anchor="end">May'19</text>
<text x="1351.8" y="2008.7" font-size="23.5" font-weight="bold" text-anchor="end">Aug'19</text>
<text x="1651.3" y="2007.8" font-size="23.5" font-weight="bold" text-anchor="end">Nov'19</text>
</svg></body></html>
